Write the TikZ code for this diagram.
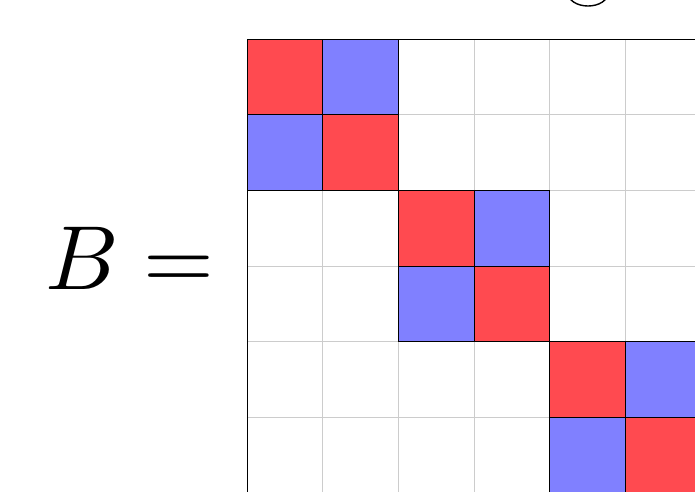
\documentclass[tikz,border=0pt]{standalone}
\definecolor{cellred}{RGB}{255,74,80}
\definecolor{cellblue}{RGB}{128,128,255}
\tikzset{
  gridline/.style={draw=black!20, line width=0.9pt},
  redcell/.style={fill=cellred, draw=black, line width=1pt},
  bluecell/.style={fill=cellblue, draw=black, line width=1pt},
  frame/.style={draw=black, line width=1.3pt},
}
\begin{document}
\begin{tikzpicture}[x=1pt,y=-1pt]
\useasboundingbox (0,0) rectangle (695,491);
\begin{scope}
\clip (0,0) rectangle (695,491);
% partial glyph at top
\draw[line width=1.4pt] (588,-7) ellipse (20 and 13);
% grid
\foreach \i in {1,...,7} {
  \draw[gridline] (247.3+75.6*\i,39.3) -- (247.3+75.6*\i,39.3+75.6*8);
  \draw[gridline] (247.3,39.3+75.6*\i) -- (247.3+75.6*8,39.3+75.6*\i);
}
\foreach \b in {0,2,4,6} {
  \pgfmathsetmacro{\xa}{247.3+75.6*\b}
  \pgfmathsetmacro{\ya}{39.3+75.6*\b}
  \path[redcell] (\xa,\ya) rectangle ++(75.6,75.6);
  \path[bluecell] (\xa+75.6,\ya) rectangle ++(75.6,75.6);
  \path[bluecell] (\xa,\ya+75.6) rectangle ++(75.6,75.6);
  \path[redcell] (\xa+75.6,\ya+75.6) rectangle ++(75.6,75.6);
}
\draw[frame] (247.3,39.3) rectangle (247.3+75.6*8,39.3+75.6*8);
\end{scope}
\node[anchor=base east, inner sep=0pt, scale=9.1] (lhs) at (216.5,289) {$B=$};
\end{tikzpicture}
\end{document}
